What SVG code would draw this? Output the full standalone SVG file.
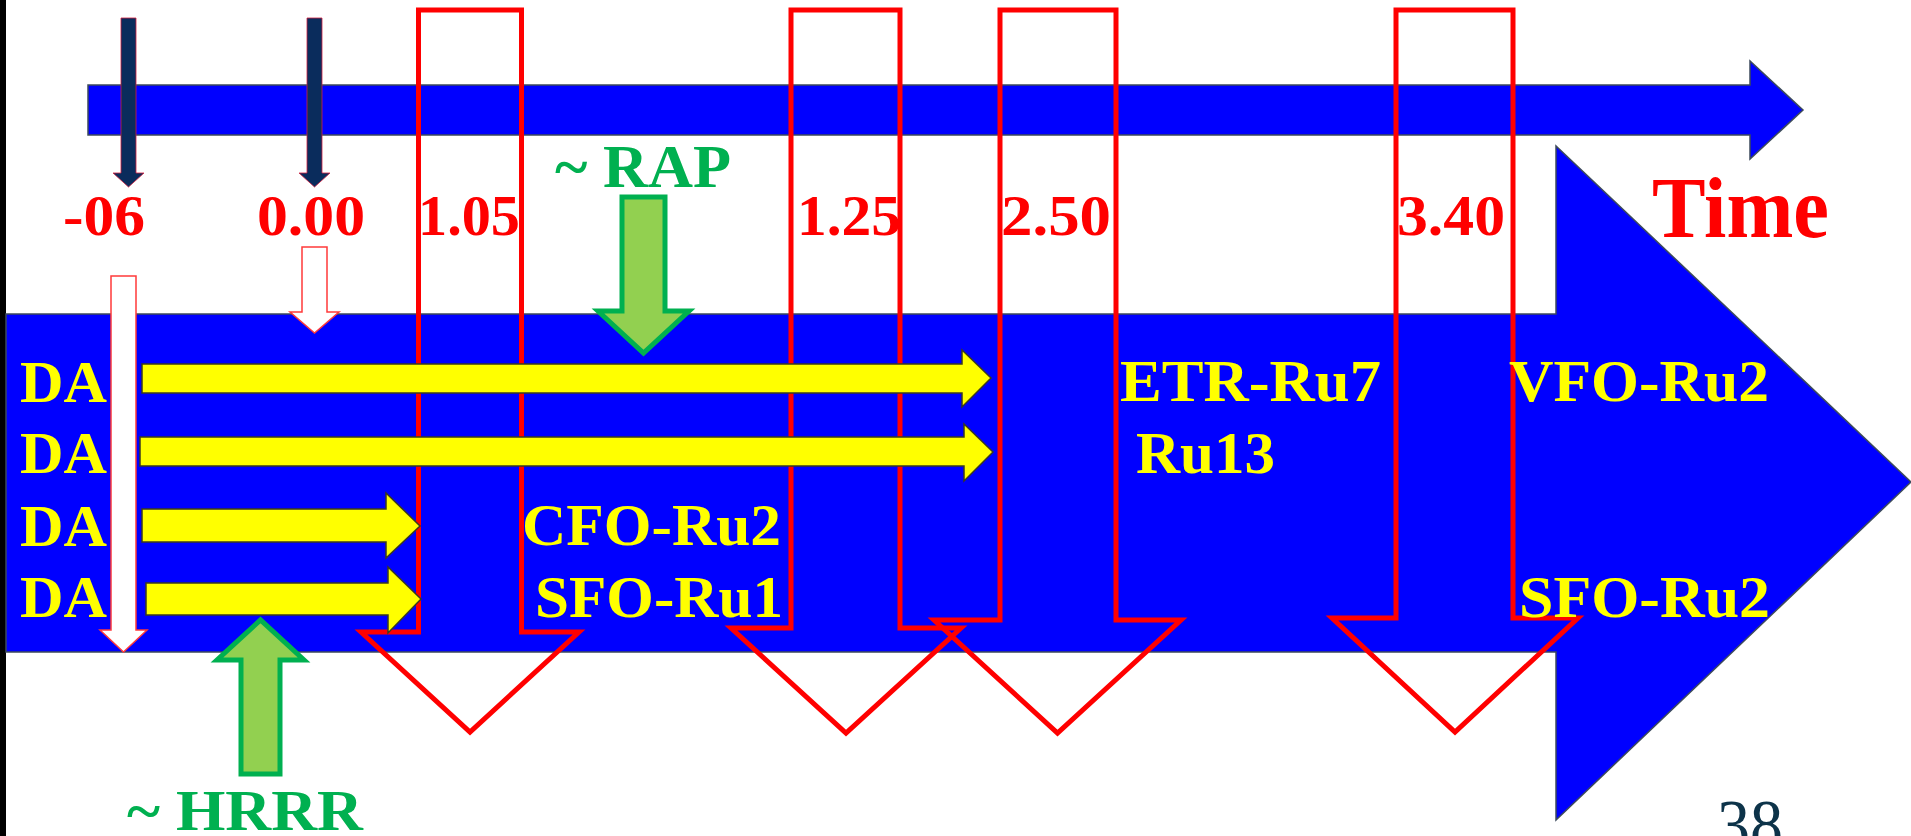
<svg xmlns="http://www.w3.org/2000/svg" width="1911" height="836" viewBox="0 0 1911 836">
<style>
.red{font-family:"Liberation Serif","Times New Roman",serif;font-weight:bold;fill:#ff0000;font-size:57px}
.yel{font-family:"Liberation Serif","Times New Roman",serif;font-weight:bold;fill:#ffff00;font-size:59px}
.grn{font-family:"Liberation Serif","Times New Roman",serif;font-weight:bold;fill:#00b050}
.box{fill:none;stroke:#ff0000;stroke-width:5;stroke-linejoin:miter}
.blue{fill:#0000ff;stroke:#3c4a5c;stroke-width:1.5}
.yarrow{fill:#ffff00;stroke:#3a3a20;stroke-width:1.5}
.navy{fill:#0a2c5c;stroke:#d02040;stroke-width:0.8}
.warrow{fill:#ffffff;stroke:#ff3a3a;stroke-width:1.5}
.garrow{fill:#92d050;stroke:#00b050;stroke-width:5}
</style>
<rect x="0" y="0" width="1911" height="836" fill="#ffffff"/>
<rect x="0" y="0" width="6" height="836" fill="#000000"/>
<g id="time-axis">
<path class="blue" d="M88,85 L1750,85 L1750,61 L1803,110 L1750,159 L1750,135 L88,135 Z"/>
<text class="red" x="1652" y="237" style="font-size:86px" textLength="177" lengthAdjust="spacingAndGlyphs">Time</text>
</g>
<g id="main-band">
<path class="blue" d="M6,314 L1556,314 L1556,146 L1911,482 L1556,820 L1556,652 L6,652 Z"/>
</g>
<g id="window-105">
<path class="box" d="M418.5,10 L521.5,10 L521.5,632 L579,632 L470,732 L361,632 L418.5,632 Z"/>
<text class="red" x="418" y="235" textLength="102" lengthAdjust="spacingAndGlyphs">1.05</text>
</g>
<g id="window-125">
<path class="box" d="M791,10 L900,10 L900,628 L961,628 L846,733 L731,628 L791,628 Z"/>
<text class="red" x="797" y="235" textLength="104" lengthAdjust="spacingAndGlyphs">1.25</text>
</g>
<g id="window-250">
<path class="box" d="M1000,10 L1116,10 L1116,620 L1181,620 L1057.5,733 L934,620 L1000,620 Z"/>
<text class="red" x="1001" y="235" textLength="110" lengthAdjust="spacingAndGlyphs">2.50</text>
</g>
<g id="window-340">
<path class="box" d="M1396,10 L1513,10 L1513,618 L1578,618 L1455,732 L1332,618 L1396,618 Z"/>
<text class="red" x="1397" y="235" textLength="108" lengthAdjust="spacingAndGlyphs">3.40</text>
</g>
<g id="label-m06">
<text class="red" x="63" y="235" textLength="82" lengthAdjust="spacingAndGlyphs">-06</text>
</g>
<g id="label-000">
<text class="red" x="257" y="235" textLength="108" lengthAdjust="spacingAndGlyphs">0.00</text>
</g>
<g id="connectors">
<path class="navy" d="M121,18 L136,18 L136,173 L144,173 L128.5,187 L113,173 L121,173 Z"/>
<path class="navy" d="M307,18 L322,18 L322,173 L330,173 L314.5,187 L299,173 L307,173 Z"/>
<path class="warrow" d="M111,276 L136,276 L136,630 L147,630 L123.5,652 L100,630 L111,630 Z"/>
<path class="warrow" d="M302,247 L327,247 L327,312 L339,312 L314.5,333 L290,312 L302,312 Z"/>
<path class="yarrow" d="M142,364 L962,364 L962,350 L991,378 L962,407 L962,393 L142,393 Z"/>
<path class="yarrow" d="M140,437 L964,437 L964,424 L993,452 L964,481 L964,466 L140,466 Z"/>
<path class="yarrow" d="M142,509 L386,509 L386,493 L420,526 L386,558 L386,542 L142,542 Z"/>
<path class="yarrow" d="M146,583 L388,583 L388,567 L421,599 L388,633 L388,615 L146,615 Z"/>
<path class="garrow" d="M622,197 L665,197 L665,311 L689,311 L643.5,353 L598,311 L622,311 Z"/>
<path class="garrow" d="M241,774 L280,774 L280,660 L304,660 L260.5,620 L217,660 L241,660 Z"/>
</g>
<g id="da-labels">
<text class="yel" x="20" y="402" textLength="87" lengthAdjust="spacingAndGlyphs">DA</text>
<text class="yel" x="20" y="473" textLength="87" lengthAdjust="spacingAndGlyphs">DA</text>
<text class="yel" x="20" y="546" textLength="87" lengthAdjust="spacingAndGlyphs">DA</text>
<text class="yel" x="20" y="617" textLength="87" lengthAdjust="spacingAndGlyphs">DA</text>
</g>
<g id="forecast-labels">
<text class="yel" x="522" y="545" textLength="259" lengthAdjust="spacingAndGlyphs">CFO-Ru2</text>
<text class="yel" x="535" y="617" textLength="248" lengthAdjust="spacingAndGlyphs">SFO-Ru1</text>
<text class="yel" x="1120" y="401" textLength="261" lengthAdjust="spacingAndGlyphs">ETR-Ru7</text>
<text class="yel" x="1136" y="473" textLength="139" lengthAdjust="spacingAndGlyphs">Ru13</text>
<text class="yel" x="1509" y="401" textLength="260" lengthAdjust="spacingAndGlyphs">VFO-Ru2</text>
<text class="yel" x="1519" y="617" textLength="251" lengthAdjust="spacingAndGlyphs">SFO-Ru2</text>
</g>
<g id="rap">
<text class="grn" x="555" y="187" style="font-size:62px" textLength="176" lengthAdjust="spacingAndGlyphs">~ RAP</text>
</g>
<g id="hrrr">
<text class="grn" x="127" y="830" style="font-size:57px" textLength="236" lengthAdjust="spacingAndGlyphs">~ HRRR</text>
</g>
<g id="page-number">
<text x="1717" y="849" style="font-family:'Liberation Serif','Times New Roman',serif;font-size:72px;fill:#0d3349" textLength="66" lengthAdjust="spacingAndGlyphs">38</text>
</g>
</svg>
